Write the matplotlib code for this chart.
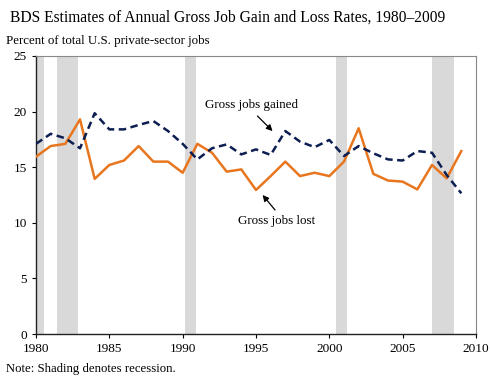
import matplotlib
matplotlib.use("Agg")
import matplotlib.pyplot as plt

years = list(range(1980, 2010))
gained = [17.1, 18.0, 17.6, 16.7, 19.85, 18.4, 18.4, 18.8, 19.15, 18.25,
          17.1, 15.7, 16.7, 17.05, 16.15, 16.6, 16.1, 18.25, 17.3, 16.8,
          17.45, 16.0, 16.9, 16.25, 15.7, 15.6, 16.45, 16.3, 14.3, 12.65]
lost = [15.95, 16.9, 17.1, 19.3, 13.95, 15.2, 15.6, 16.9, 15.5, 15.5,
        14.5, 17.1, 16.3, 14.6, 14.8, 12.95, 14.2, 15.5, 14.2, 14.5,
        14.2, 15.5, 18.5, 14.4, 13.8, 13.7, 13.0, 15.2, 14.0, 16.45]
recessions = [(1980.0, 1980.55), (1981.45, 1982.85), (1990.15, 1990.9),
              (2000.45, 2001.2), (2007.0, 2008.5)]
yticks = [0, 5, 10, 15, 20, 25]
xticks = [1980, 1985, 1990, 1995, 2000, 2005, 2010]

plt.rcParams['font.family'] = ['Liberation Serif', 'DejaVu Serif']

fig = plt.figure(figsize=(4.9, 3.86), dpi=100)
ax = fig.add_axes([0.0735, 0.1347, 0.8979, 0.7203])

for a, b in recessions:
    ax.axvspan(a, b, color='#D9D9D9', lw=0, zorder=0)

ax.plot(years, lost, color='#E8761E', lw=1.8, zorder=3)
ax.plot(years, gained, color='#0C1E52', lw=1.8, ls=(0, (3, 1.8)), zorder=3)

ax.set_xlim(1980, 2010)
ax.set_ylim(0, 25)
ax.set_xticks(xticks)
ax.set_yticks(yticks)
ax.tick_params(labelsize=9.5, length=3, direction='out', width=0.8, pad=3.5)

for s in ['top', 'right']:
    ax.spines[s].set_color('#888888')
    ax.spines[s].set_linewidth(0.8)
for s in ['left', 'bottom']:
    ax.spines[s].set_color('#222222')
    ax.spines[s].set_linewidth(1.0)

ax.text(1994.7, 20.6, 'Gross jobs gained', ha='center', va='center', fontsize=9.4)
ax.text(1996.4, 10.2, 'Gross jobs lost', ha='center', va='center', fontsize=9.4)
arrow = dict(arrowstyle='-|>', color='black', lw=0.9, shrinkA=0, shrinkB=0,
             mutation_scale=9)
ax.annotate('', xy=(1996.13, 18.25), xytext=(1995.1, 19.6), arrowprops=arrow)
ax.annotate('', xy=(1995.45, 12.5), xytext=(1996.3, 11.15), arrowprops=arrow)

fig.text(10/490, 1 - 18/386, 'BDS Estimates of Annual Gross Job Gain and Loss Rates, 1980\u20132009',
         fontsize=11.2, ha='left', va='center')
fig.text(6/490, 1 - 41/386, 'Percent of total U.S. private-sector jobs',
         fontsize=9.3, ha='left', va='center')
fig.text(6/490, 1 - 369/386, 'Note: Shading denotes recession.',
         fontsize=9.2, ha='left', va='center')

fig.savefig('out.png', dpi=100)
